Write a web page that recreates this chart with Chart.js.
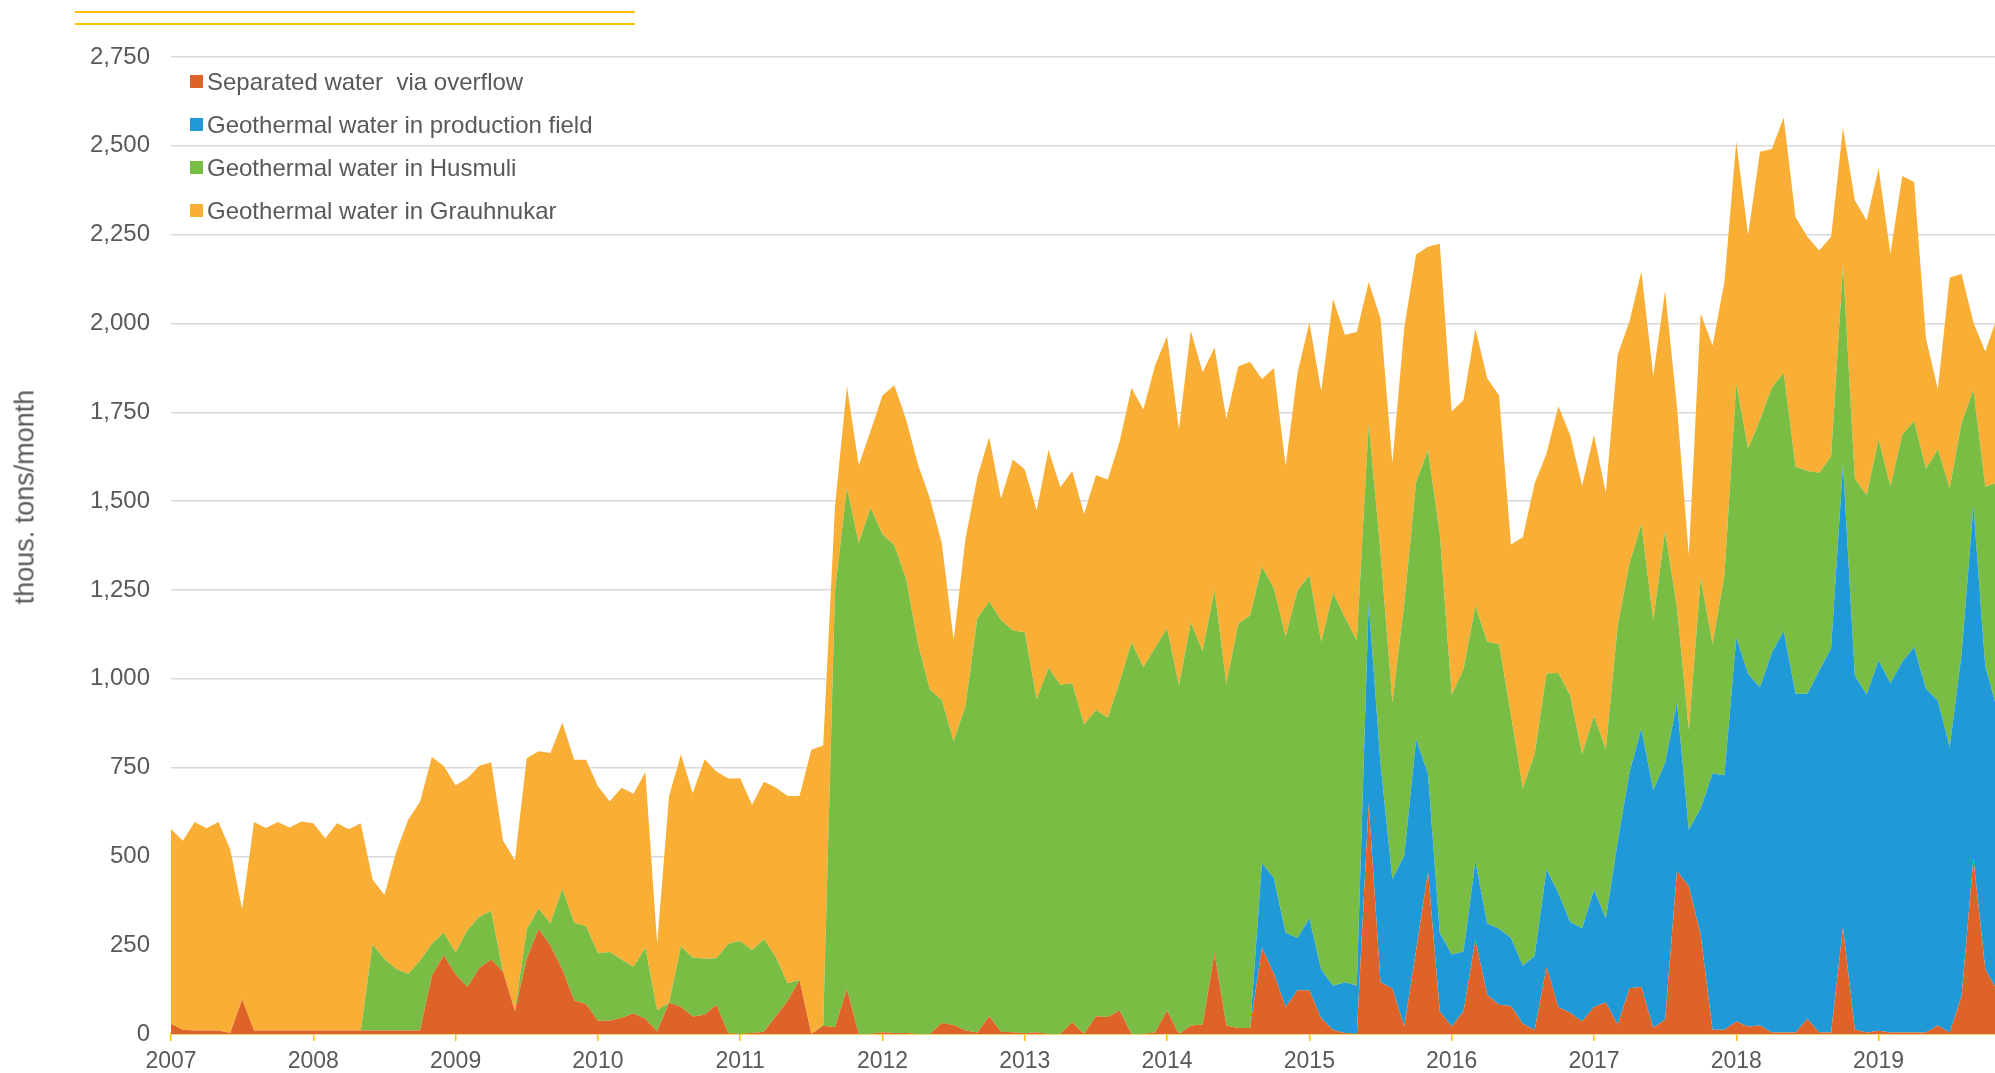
<!DOCTYPE html>
<html><head><meta charset="utf-8">
<script src="https://cdn.jsdelivr.net/npm/chart.js@4.4.1/dist/chart.umd.min.js"></script>
<style>
html,body{margin:0;padding:0;background:#fff;}
#wrap{position:relative;width:1995px;height:1073px;overflow:hidden;}
#wrap canvas{position:absolute;left:0;top:0;}
.topline{position:absolute;left:75px;width:560px;height:2px;background:#FFC000;}
#legend{position:absolute;left:190px;top:60px;font-family:"Liberation Sans",Arial,sans-serif;font-size:24px;color:#595959;}
.row{height:43px;display:flex;align-items:center;white-space:pre;}
.sw{width:13px;height:13px;margin-right:4px;flex:none;}
#ytitle{position:absolute;left:25px;top:497px;transform:translate(-50%,-50%) rotate(-90deg);white-space:nowrap;font-family:"Liberation Sans",Arial,sans-serif;font-size:27px;color:#595959;line-height:1;}
</style></head>
<body>
<div id="wrap">
  <canvas id="c" width="1995" height="1073"></canvas>
  <div class="topline" style="top:11px"></div>
  <div class="topline" style="top:23px"></div>
  <div id="ytitle"></div>
  <div id="legend"></div>
</div>
<script>
// ---- data (monthly, Jan 2007 .. Nov 2019), thous. tons/month ----
const yearLabels = ['2007','2008','2009','2010','2011','2012','2013','2014','2015','2016','2017','2018','2019'];
const seriesNames = ['Separated water  via overflow','Geothermal water in production field','Geothermal water in Husmuli','Geothermal water in Grauhnukar'];
const yAxisTitle = 'thous. tons/month';

const separatedOverflow = [
  29,12,10,10,10,3,97,10,10,10,10,10,
  10,10,10,10,10,10,10,10,10,10,164,222,
  168,132,186,210,175,65,212,296,249,182,95,84,
  37,37,46,58,43,8,88,77,49,54,82,2,
  0,3,6,50,93,152,0,23,19,127,0,0,
  5,3,3,0,0,31,25,10,4,50,6,5,
  2,5,0,0,33,0,50,48,66,0,0,5,
  66,0,24,27,229,24,17,17,242,171,75,123,
  123,44,11,3,0,649,146,128,21,235,456,64,
  21,64,265,110,82,79,29,11,189,75,60,35,
  76,89,26,129,132,17,41,458,416,279,12,12,
  35,21,24,4,4,4,43,4,4,300,13,4,
  9,4,4,4,4,24,4,106,494,182,122
];
const productionField = [
  0,0,0,0,0,0,0,0,0,0,0,0,
  0,0,0,0,0,0,0,0,0,0,0,0,
  0,0,0,0,0,0,0,0,0,0,0,0,
  0,0,0,0,0,0,0,0,0,0,0,0,
  0,0,0,0,0,0,0,0,0,0,0,0,
  0,0,0,0,0,0,0,0,0,0,0,0,
  0,0,0,0,0,0,0,0,0,0,0,0,
  0,0,0,0,0,0,0,0,239,268,210,147,
  203,137,125,143,136,566,615,308,481,594,277,221,
  203,168,221,201,214,191,163,209,275,321,255,263,
  329,236,515,608,727,669,722,475,159,356,721,716,
  1080,992,951,1070,1130,954,915,1019,1082,1304,996,951,
  1043,983,1043,1085,968,914,804,963,992,853,791
];
const husmuli = [
  0,0,0,0,0,0,0,0,0,0,0,0,
  0,0,0,0,0,242,201,173,159,196,90,63,
  61,160,144,136,0,0,82,57,62,227,218,220,
  190,194,164,131,200,59,0,169,166,158,131,252,
  262,233,261,167,50,0,0,3,1231,1410,1382,1481,
  1402,1373,1277,1097,969,909,799,914,1167,1167,1159,1131,
  1129,937,1030,983,954,871,862,842,924,1103,1032,1083,
  1076,981,1134,1050,1022,961,1138,1161,835,816,834,978,
  965,923,1105,1026,972,503,594,497,708,724,911,1123,
  731,795,719,793,800,628,500,568,551,620,638,490,
  490,477,608,588,576,477,652,267,281,647,365,562,
  715,635,753,745,727,639,627,557,540,560,554,562,
  622,554,640,636,620,707,729,651,327,506,638
];
const grauhnukar = [
  548,532,587,569,587,516,254,587,570,587,571,588,
  583,541,583,566,583,183,180,331,434,448,526,469,
  471,428,425,419,370,424,482,443,480,468,459,468,
  470,424,483,487,494,188,582,541,463,561,526,465,
  458,409,443,477,527,518,800,786,237,287,219,217,
  390,450,449,506,538,442,285,470,397,463,342,481,
  458,532,614,556,598,593,661,671,678,715,726,795,
  822,721,822,786,681,747,724,714,528,619,480,613,
  712,705,828,796,868,399,659,674,778,641,572,816,
  797,758,780,742,701,480,706,762,619,751,732,755,
  791,722,763,681,711,690,676,567,491,746,840,827,
  682,602,755,672,719,702,659,625,618,387,784,773,
  763,656,728,673,366,170,592,419,190,380,467
];

// ---- styles ----
const seriesColors = ['#DE6328','#1F9AD7','#7ABD45','#F9AF35'];
const FONT = '"Liberation Sans", Arial, sans-serif';
const TEXT = '#595959';
const GOLD = '#FFC000';

const allSeries = [separatedOverflow, productionField, husmuli, grauhnukar];
const datasets = allSeries.map((arr, k) => ({
  label: seriesNames[k],
  data: arr.map((v, i) => ({x: i, y: v})),
  backgroundColor: seriesColors[k],
  borderWidth: 0,
  pointRadius: 0,
  tension: 0,
  fill: k === 0 ? 'origin' : '-1'
}));

new Chart(document.getElementById('c'), {
  type: 'line',
  data: {datasets},
  options: {
    responsive: false,
    animation: false,
    events: [],
    layout: {padding: {top: 57, left: 0, right: 0, bottom: 0}},
    plugins: {legend: {display: false}, tooltip: {enabled: false}},
    scales: {
      x: {
        type: 'linear',
        min: 0,
        max: 153.82,
        afterBuildTicks: s => { s.ticks = yearLabels.map((_, k) => ({value: k * 12})); },
        afterFit: s => { s.height = 39; },
        grid: {drawOnChartArea: false, drawTicks: true, tickLength: 7, color: GOLD, lineWidth: 1.5},
        border: {display: true, color: GOLD, width: 1.5},
        ticks: {
          autoSkip: false, maxRotation: 0, padding: 7,
          color: TEXT, font: {family: FONT, size: 23},
          callback: v => yearLabels[Math.round(v / 12)]
        }
      },
      y: {
        stacked: true,
        min: 0, max: 2750,
        afterFit: s => { s.width = 171; },
        grid: {color: '#D9D9D9', lineWidth: 1.5, drawTicks: false},
        border: {display: false},
        ticks: {stepSize: 250, padding: 21, color: TEXT, font: {family: FONT, size: 24}}
      }
    }
  }
});

document.getElementById('ytitle').textContent = yAxisTitle;

// HTML legend built from the dataset names/colours
const lg = document.getElementById('legend');
seriesNames.forEach((n, k) => {
  const r = document.createElement('div'); r.className = 'row';
  const sw = document.createElement('span'); sw.className = 'sw'; sw.style.background = seriesColors[k];
  const t = document.createElement('span'); t.textContent = n;
  r.appendChild(sw); r.appendChild(t); lg.appendChild(r);
});
</script>
</body></html>
